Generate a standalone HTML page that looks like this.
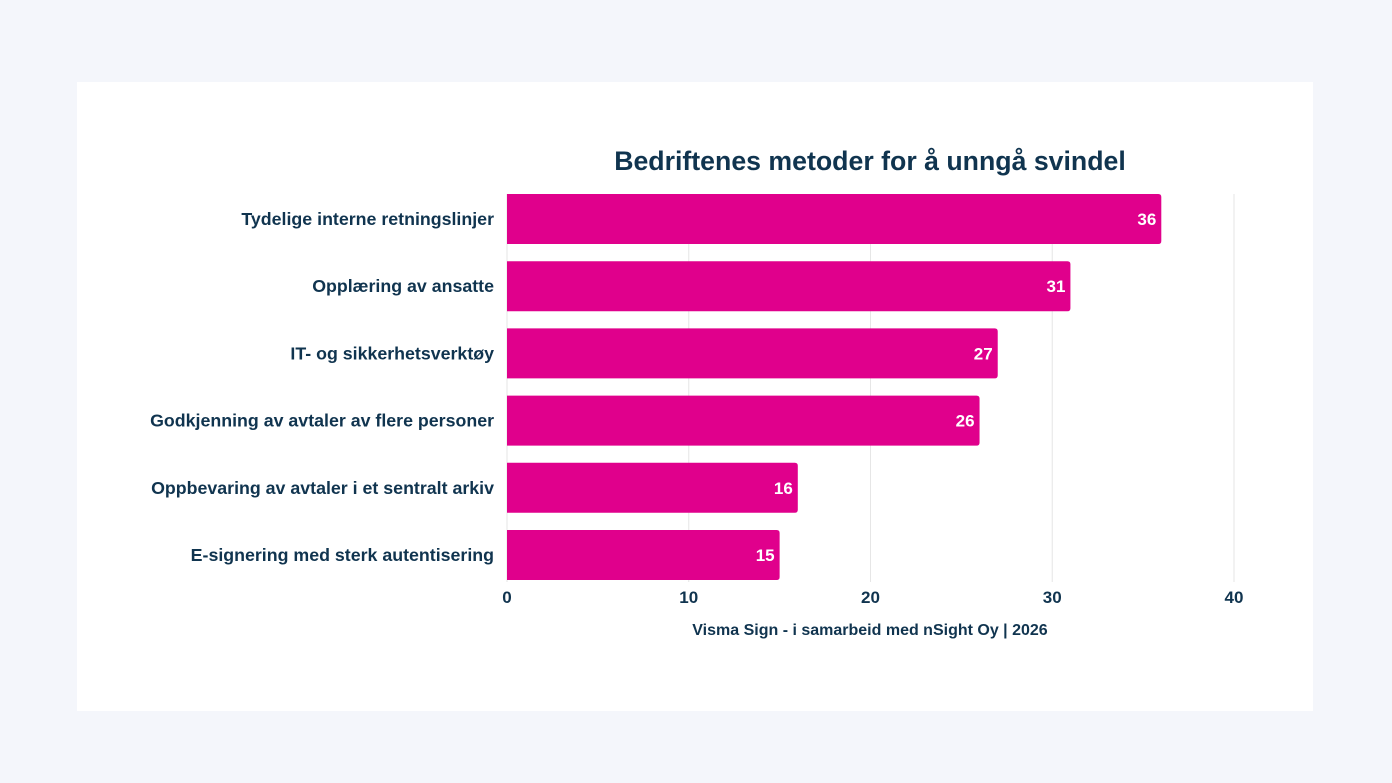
<!DOCTYPE html>
<html><head><meta charset="utf-8"><style>
body{margin:0;width:1392px;height:783px;background:#f4f6fb;font-family:"Liberation Sans",sans-serif;overflow:hidden}
#card{position:absolute;left:77px;top:82px;width:1236px;height:629px;background:#fff}
svg{position:absolute;left:0;top:0}
</style></head><body>
<div id="card"></div>
<svg id="chart" width="1392" height="783"></svg>
<script>
const categories=["Tydelige interne retningslinjer","Opplæring av ansatte","IT- og sikkerhetsverktøy","Godkjenning av avtaler av flere personer","Oppbevaring av avtaler i et sentralt arkiv","E-signering med sterk autentisering"];
const values=[36,31,27,26,16,15];
const ticks=[0,10,20,30,40];
const svg=document.getElementById('chart');
const NS='http://www.w3.org/2000/svg';
const x0=507,x1=1234,xmax=40,top0=194,step=67.2,bh=50;
const xs=v=>x0+(x1-x0)*v/xmax;
const ys=i=>top0+i*step;
const navy='#10344f';
function mk(t,a,txt){const e=document.createElementNS(NS,t);for(const k in a)e.setAttribute(k,a[k]);if(txt!=null)e.textContent=txt;svg.appendChild(e);return e;}
let t=mk('text',{x:870,y:170,'text-anchor':'middle','font-size':26.7,'font-weight':'bold',fill:navy},'Bedriftenes metoder for å unngå svindel');


ticks.forEach(v=>{
 const g=mk('line',{x1:xs(v),x2:xs(v),y1:194,y2:582,stroke:'#e6e6e6','stroke-width':1});
 
 
 const l=mk('text',{x:xs(v),y:603,'text-anchor':'middle','font-size':17,'font-weight':'bold',fill:navy},v);
 
 
});
categories.forEach((c,i)=>{
 const y=ys(i);
 const w=xs(values[i])-x0;
 const b=mk('path',{d:`M${x0},${y}h${w-3}q3,0 3,3v${bh-6}q0,3 -3,3h${-(w-3)}z`,fill:'#e0008c'});
 
 
 const v=mk('text',{x:xs(values[i])-5,y:y+bh/2+6,'text-anchor':'end','font-size':17,'font-weight':'bold',fill:'#fff'},values[i]);
 
 
 const l=mk('text',{x:494,y:y+bh/2+6,'text-anchor':'end','font-size':17.8,'font-weight':'bold',fill:navy},c);
 
 
});
const s=mk('text',{x:870,y:635,'text-anchor':'middle','font-size':16,'font-weight':'bold',fill:navy},'Visma Sign - i samarbeid med nSight Oy | 2026');


</script>
</body></html>
